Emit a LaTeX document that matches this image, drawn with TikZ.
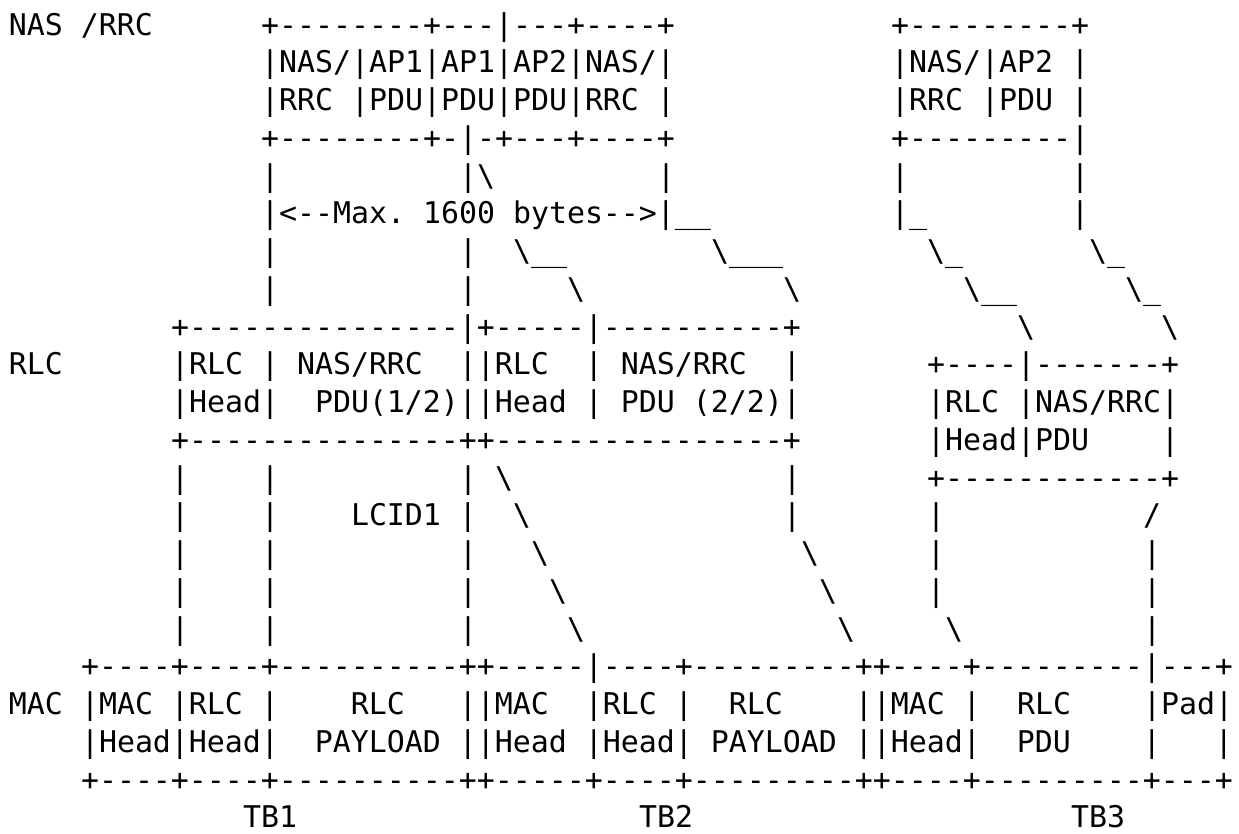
\documentclass[tikz,border=0pt]{standalone}
\usepackage{fontspec}
\setmonofont{DejaVu Sans Mono}
\usepackage{tikz}

% one character cell of the mono font
\newcommand{\bsl}{\textbackslash}
\newcommand{\gap}[1]{\hspace*{#1\fontdimen2\font}}

\tikzset{
  ascii/.style={anchor=base west, inner sep=0pt, outer sep=0pt,
    font=\ttfamily\fontsize{29.9pt}{37.76pt}\selectfont},
}

\begin{document}
\begin{tikzpicture}[x=18pt, y=-37.76pt]
  \useasboundingbox (-9pt,-2.76pt) rectangle (1230pt,-835.76pt);

  % layer names
  \node[ascii] (naslbl) at (0,1) {NAS~/RRC};
  \node[ascii] (rlclbl) at (0,10) {RLC};
  \node[ascii] (maclbl) at (0,19) {MAC};

  % NAS/RRC SDUs
  \node[ascii] (nas1) at (14,1) {+--------+---|---+----+\gap{12}+---------+};
  \node[ascii] (nas2) at (14,2) {|NAS/|AP1|AP1|AP2|NAS/|\gap{12}|NAS/|AP2~|};
  \node[ascii] (nas3) at (14,3) {|RRC~|PDU|PDU|PDU|RRC~|\gap{12}|RRC~|PDU~|};
  \node[ascii] (nas4) at (14,4) {+--------+-|-+---+----+\gap{12}+---------|};

  % segmentation
  \node[ascii] (seg1) at (14,5) {|\gap{10}|\bsl\gap{9}|\gap{12}|\gap{9}|};
  \node[ascii] (seg2) at (14,6) {|<--Max.~1600~bytes-->|\_\_\gap{10}|\_\gap{8}|};
  \node[ascii] (seg3) at (14,7) {|\gap{10}|\gap{2}\bsl\_\_\gap{8}\bsl\_\_\_\gap{8}\bsl\_\gap{7}\bsl\_};
  \node[ascii] (seg4) at (14,8) {|\gap{10}|\gap{5}\bsl\gap{11}\bsl\gap{9}\bsl\_\_\gap{6}\bsl\_};

  % RLC PDUs
  \node[ascii] (rlc1) at (9,9) {+---------------|+-----|----------+\gap{12}\bsl\gap{7}\bsl};
  \node[ascii] (rlc2) at (9,10) {|RLC~|~NAS/RRC\gap{2}||RLC\gap{2}|~NAS/RRC\gap{2}|\gap{7}+----|-------+};
  \node[ascii] (rlc3) at (9,11) {|Head|\gap{2}PDU(1/2)||Head~|~PDU~(2/2)|\gap{7}|RLC~|NAS/RRC|};
  \node[ascii] (rlc4) at (9,12) {+---------------++----------------+\gap{7}|Head|PDU\gap{4}|};

  % mapping onto transport blocks
  \node[ascii] (map1) at (9,13) {|\gap{4}|\gap{10}|~\bsl\gap{15}|\gap{7}+------------+};
  \node[ascii] (map2) at (9,14) {|\gap{4}|\gap{4}LCID1~|\gap{2}\bsl\gap{14}|\gap{7}|\gap{11}/};
  \node[ascii] (map3) at (9,15) {|\gap{4}|\gap{10}|\gap{3}\bsl\gap{14}\bsl\gap{6}|\gap{11}|};
  \node[ascii] (map4) at (9,16) {|\gap{4}|\gap{10}|\gap{4}\bsl\gap{14}\bsl\gap{5}|\gap{11}|};
  \node[ascii] (map5) at (9,17) {|\gap{4}|\gap{10}|\gap{5}\bsl\gap{14}\bsl\gap{5}\bsl\gap{10}|};

  % MAC PDUs
  \node[ascii] (mac1) at (4,18) {+----+----+----------++-----|----+---------++----+---------|---+};
  \node[ascii] (mac2) at (4,19) {|MAC~|RLC~|\gap{4}RLC\gap{3}||MAC\gap{2}|RLC~|\gap{2}RLC\gap{4}||MAC~|\gap{2}RLC\gap{4}|Pad|};
  \node[ascii] (mac3) at (4,20) {|Head|Head|\gap{2}PAYLOAD~||Head~|Head|~PAYLOAD~||Head|\gap{2}PDU\gap{4}|\gap{3}|};
  \node[ascii] (mac4) at (4,21) {+----+----+----------++-----+----+---------++----+---------+---+};

  % transport blocks
  \node[ascii] (tb1) at (13,22) {TB1};
  \node[ascii] (tb2) at (35,22) {TB2};
  \node[ascii] (tb3) at (59,22) {TB3};
\end{tikzpicture}
\end{document}
